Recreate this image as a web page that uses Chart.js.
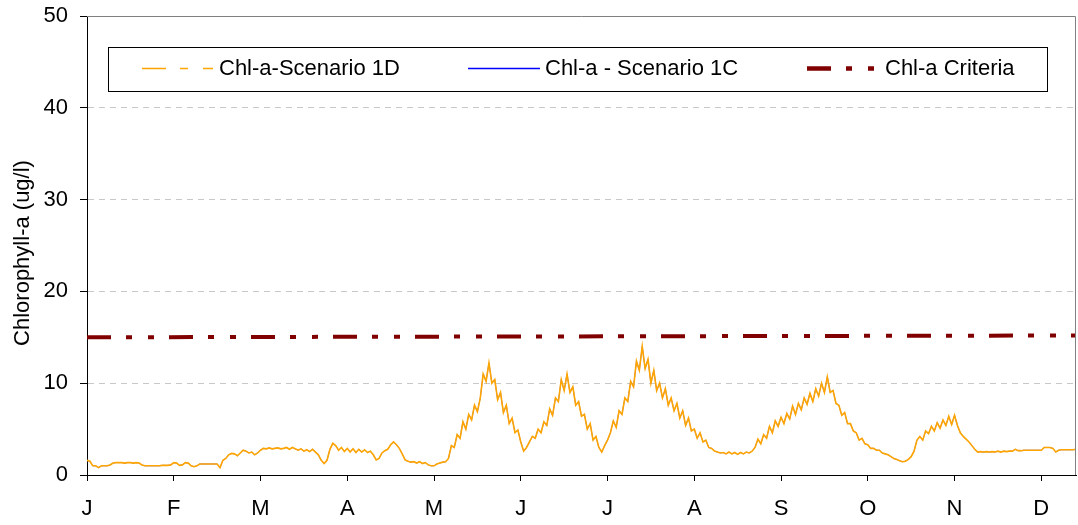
<!DOCTYPE html>
<html>
<head>
<meta charset="utf-8">
<title>Chlorophyll-a</title>
<script src="https://cdn.jsdelivr.net/npm/chart.js@4.4.1/dist/chart.umd.min.js"></script>
<style>
  html, body { margin: 0; padding: 0; background: #fff; }
  canvas { display: block; }
</style>
</head>
<body>
<canvas id="myChart" width="1078" height="525"></canvas>
<script>
'use strict';

// Eje X: dias desde el 1 de enero, una marca por mes
const monthLabels = ['J', 'F', 'M', 'A', 'M', 'J', 'J', 'A', 'S', 'O', 'N', 'D'];
const monthTicks = [0, 30, 60, 90, 120, 150, 180, 210, 240, 270, 300, 330];
const lastDay = 342;
const yTicks = [0, 10, 20, 30, 40, 50];

const seriesNames = ['Chl-a-Scenario 1D', 'Chl-a - Scenario 1C', 'Chl-a Criteria'];

// Chl-a diaria (ug/l)
const chlScenario1D = [
  // J
  1.6, 1.5, 1.0, 1.0, 0.8, 1.0, 1.0, 1.0, 1.1, 1.3,
  1.35, 1.35, 1.35, 1.3, 1.35, 1.35, 1.3, 1.35, 1.3, 1.1,
  1.0, 1.0, 1.0, 1.0, 1.0, 1.0, 1.05, 1.05, 1.05, 1.1,
  // F
  1.35, 1.3, 1.05, 1.1, 1.35, 1.3, 1.0, 0.9, 1.0, 1.2,
  1.2, 1.2, 1.2, 1.2, 1.2, 1.2, 0.8, 1.6, 1.8, 2.2,
  2.35, 2.3, 2.1, 2.4, 2.7, 2.6, 2.4, 2.5, 2.2, 2.4,
  // M
  2.7, 2.9, 2.85, 2.95, 2.85, 2.9, 2.95, 2.85, 2.9, 3.0,
  2.8, 3.0, 2.85, 2.7, 2.85, 2.6, 2.75, 2.55, 2.8, 2.5,
  2.2, 1.6, 1.25, 1.6, 2.8, 3.45, 3.2, 2.7, 3.0, 2.55,
  // A
  2.9, 2.5, 2.85, 2.45, 2.8, 2.5, 2.75, 2.45, 2.6, 2.2,
  1.65, 1.8, 2.4, 2.65, 2.8, 3.3, 3.6, 3.3, 2.9, 2.3,
  1.65, 1.5, 1.4, 1.45, 1.3, 1.45, 1.25, 1.35, 1.1, 1.0,
  // M
  1.0, 1.2, 1.3, 1.4, 1.45, 1.8, 3.2, 3.0, 4.4, 4.0,
  5.8, 5.0, 6.6, 6.0, 7.6, 6.9, 8.4, 11.0, 10.2, 12.2,
  10.0, 10.4, 8.2, 9.0, 6.8, 7.6, 5.6, 6.2, 4.6, 4.9,
  // J
  3.6, 2.6, 3.0, 3.6, 4.2, 4.0, 5.0, 4.6, 5.8, 5.4,
  7.2, 6.5, 8.4, 8.0, 10.4, 9.2, 11.0, 9.0, 9.6, 7.6,
  8.0, 6.4, 6.6, 5.0, 5.6, 3.8, 4.2, 3.0, 2.5, 3.2,
  // J
  3.8, 4.6, 5.9, 5.2, 7.0, 6.6, 8.4, 8.0, 10.2, 9.6,
  12.4, 11.4, 14.0, 11.6, 12.6, 10.0, 11.4, 9.2, 10.0, 8.4,
  9.4, 7.6, 8.4, 7.0, 7.8, 6.2, 7.0, 5.4, 6.2, 4.8,
  // A
  5.0, 4.0, 4.6, 3.6, 3.8, 3.0, 2.9, 2.6, 2.5, 2.4,
  2.45, 2.3, 2.5, 2.3, 2.45, 2.25, 2.45, 2.3, 2.5, 2.4,
  2.6, 3.0, 3.9, 3.4, 4.4, 4.0, 5.3, 4.6, 5.9, 5.3,
  // S
  6.3, 5.6, 6.7, 6.1, 7.5, 6.6, 7.8, 7.1, 8.4, 7.7,
  8.9, 8.0, 9.4, 8.6, 10.0, 9.0, 10.7, 9.0, 9.2, 7.8,
  7.6, 6.5, 6.8, 5.6, 5.6, 4.8, 4.6, 3.8, 4.0, 3.4,
  // O
  3.3, 2.9, 2.9, 2.7, 2.7, 2.4, 2.3, 2.2, 2.0, 1.8,
  1.7, 1.55, 1.45, 1.5, 1.7, 2.0, 2.6, 3.8, 4.2, 3.8,
  4.8, 4.5, 5.3, 4.8, 5.7, 5.1, 6.0, 5.4, 6.4, 5.5,
  // N
  6.5, 5.4, 4.6, 4.2, 3.9, 3.6, 3.2, 2.8, 2.5, 2.55,
  2.5, 2.55, 2.5, 2.55, 2.5, 2.6, 2.5, 2.6, 2.55, 2.6,
  2.6, 2.8, 2.65, 2.65, 2.7, 2.7, 2.7, 2.7, 2.7, 2.7,
  // D
  2.7, 3.0, 3.0, 3.0, 2.9, 2.5, 2.7, 2.75, 2.75, 2.75,
  2.75, 2.75, 2.8,
];

// El escenario 1C queda exactamente debajo del 1D (no se ve en el grafico)
const chlScenario1C = chlScenario1D;

const criteriaDays = [0, lastDay];
const criteriaValues = [15.0, 15.2];

const canvas = document.getElementById('myChart');
const fontFamily = '"Liberation Sans", Arial, sans-serif';

Chart.defaults.font.family = fontFamily;
Chart.defaults.font.size = 22;
Chart.defaults.color = '#000';

const colors = {
  scen1D: '#FFA500',
  scen1C: '#0000FF',
  criteria: '#800000',
  grid: '#c8c8c8',
  frame: '#808080',
};
const criteriaDash = [24, 15, 6, 16, 6, 15];

const toPoints = function (values) {
  return values.map((v, i) => ({ x: i, y: v }));
};

// Marco gris, leyenda en recuadro y titulo del eje Y
const extrasPlugin = {
  id: 'extras',
  afterDraw(chart) {
    const ctx = chart.ctx;
    const area = chart.chartArea;

    ctx.save();
    ctx.strokeStyle = colors.frame;
    ctx.lineWidth = 1;
    ctx.beginPath();
    ctx.moveTo(area.left, area.top + 0.5);
    ctx.lineTo(area.right - 0.5, area.top + 0.5);
    ctx.lineTo(area.right - 0.5, area.bottom);
    ctx.stroke();

    // recuadro de la leyenda
    ctx.fillStyle = '#fff';
    ctx.fillRect(108, 47, 939, 44);
    ctx.strokeStyle = '#000';
    ctx.strokeRect(108.5, 47.5, 939, 44);

    const y = 68.5;
    const swatch = function (x1, x2, color, width, dash) {
      ctx.strokeStyle = color;
      ctx.lineWidth = width;
      ctx.setLineDash(dash);
      ctx.beginPath();
      ctx.moveTo(x1, y);
      ctx.lineTo(x2, y);
      ctx.stroke();
      ctx.setLineDash([]);
    };
    swatch(142, 214, colors.scen1D, 1.5, [24, 14, 8, 15, 10, 100]);
    swatch(468, 540, colors.scen1C, 1.5, []);
    swatch(807, 876, colors.criteria, 4.5, [24, 15, 6, 16, 6, 100]);

    ctx.fillStyle = '#000';
    ctx.font = '22px ' + fontFamily;
    ctx.textAlign = 'left';
    ctx.textBaseline = 'middle';
    ctx.fillText(seriesNames[0], 219, 69);
    ctx.fillText(seriesNames[1], 545, 69);
    ctx.fillText(seriesNames[2], 885, 69);

    // titulo del eje Y
    ctx.translate(23, 253);
    ctx.rotate(-Math.PI / 2);
    ctx.textAlign = 'center';
    ctx.fillText('Chlorophyll-a (ug/l)', 0, 0);
    ctx.restore();
  },
};

const myChart = new Chart(canvas, {
  type: 'line',
  data: {
    datasets: [
      {
        label: seriesNames[0],
        data: toPoints(chlScenario1D),
        borderColor: colors.scen1D,
        borderWidth: 1.6,
        pointRadius: 0,
        tension: 0,
        order: 0,
      },
      {
        label: seriesNames[1],
        data: toPoints(chlScenario1C),
        borderColor: colors.scen1C,
        borderWidth: 0.6,
        pointRadius: 0,
        tension: 0,
        order: 1,
      },
      {
        label: seriesNames[2],
        data: criteriaDays.map((d, i) => ({ x: d, y: criteriaValues[i] })),
        borderColor: colors.criteria,
        borderWidth: 4,
        borderDash: criteriaDash,
        pointRadius: 0,
        order: 2,
      },
    ],
  },
  options: {
    responsive: false,
    animation: false,
    events: [],
    layout: { padding: { top: 16, right: 2, bottom: 0, left: 0 } },
    plugins: {
      legend: { display: false },
      tooltip: { enabled: false },
    },
    scales: {
      x: {
        type: 'linear',
        min: 0,
        max: lastDay,
        afterBuildTicks: (scale) => {
          scale.ticks = monthTicks.map((v) => ({ value: v }));
        },
        afterFit: (scale) => {
          scale.height = 50;
          scale.paddingLeft = 0;
          scale.paddingRight = 0;
        },
        grid: {
          drawOnChartArea: false,
          tickLength: 6,
          tickColor: '#000',
        },
        border: { color: '#000', width: 1 },
        ticks: {
          padding: 15,
          maxRotation: 0,
          autoSkip: false,
          callback: (value, index) => monthLabels[index],
        },
      },
      y: {
        min: 0,
        max: 50,
        afterBuildTicks: (scale) => {
          scale.ticks = yTicks.map((v) => ({ value: v }));
        },
        afterFit: (scale) => {
          scale.width = 87;
          scale.paddingTop = 0;
          scale.paddingBottom = 0;
        },
        grid: {
          color: (c) =>
            c.tick && c.tick.value > 0 && c.tick.value < 50 ? colors.grid : 'rgba(0,0,0,0)',
          tickColor: '#000',
          tickLength: 7,
          tickBorderDash: [],
        },
        border: { color: '#000', width: 1, dash: [6, 5] },
        ticks: { padding: 12 },
      },
    },
  },
  plugins: [extrasPlugin],
});
</script>
</body>
</html>
